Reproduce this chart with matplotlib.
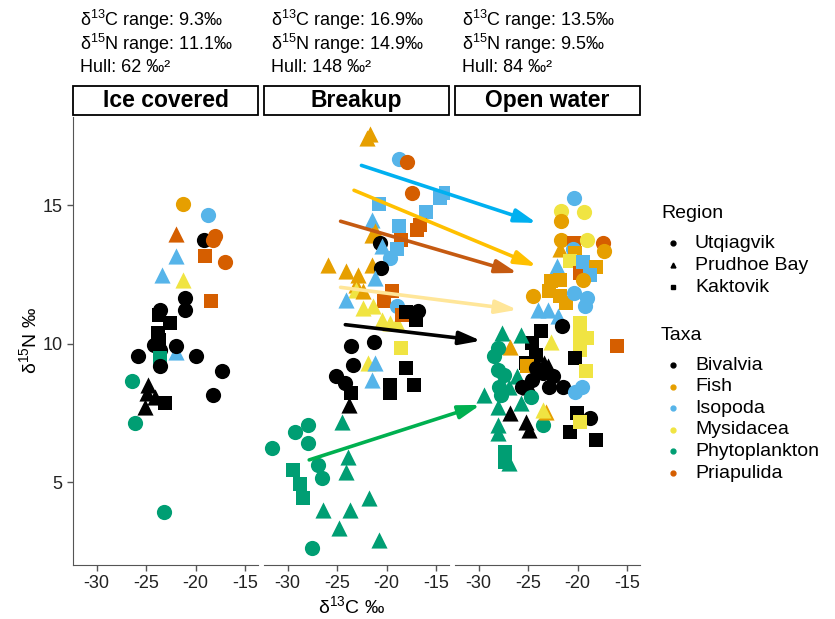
import matplotlib
matplotlib.use('Agg')
import matplotlib.pyplot as plt
from matplotlib.patches import Rectangle, ConnectionPatch
from matplotlib.lines import Line2D

plt.rcParams['font.family'] = ['Liberation Sans', 'DejaVu Sans']
plt.rcParams['mathtext.fontset'] = 'custom'
plt.rcParams['mathtext.rm'] = 'Liberation Sans'
plt.rcParams['mathtext.it'] = 'Liberation Sans:italic'
plt.rcParams['mathtext.bf'] = 'Liberation Sans:bold'

# ---------------- data ----------------
seasons = ['Ice covered', 'Breakup', 'Open water']
c_range = ['9.3', '16.9', '13.5']
n_range = ['11.1', '14.9', '9.5']
hull_area = ['62', '148', '84']

taxa_names = ['Bivalvia', 'Fish', 'Isopoda', 'Mysidacea', 'Phytoplankton', 'Priapulida']
taxa_codes = ['B', 'F', 'I', 'M', 'P', 'R']
taxa_colors = ['#000000', '#E69F00', '#56B4E9', '#F0E442', '#009E73', '#D55E00']
region_names = ['Utqiagvik', 'Prudhoe Bay', 'Kaktovik']
region_codes = ['U', 'P', 'K']
region_markers = ['o', '^', 's']

ice_x = [-21.3, -18.8, -22.0, -19.15, -18.06, -18.2, -22.0, -19.05, -17.0, -23.4,
         -21.3, -18.5, -21.1, -21.1, -23.6, -23.7, -22.6, -23.8, -23.7, -22.0,
         -24.25, -22.0, -23.6, -25.8, -23.6, -20.0, -23.6, -17.35, -26.4, -24.8,
         -24.9, -24.1, -25.1, -23.1, -18.2, -26.1, -23.2]
ice_y = [15.06, 14.64, 13.97, 13.74, 13.9, 13.74, 13.19, 13.16, 12.96, 12.47,
         12.29, 11.53, 11.66, 11.23, 11.23, 11.05, 10.75, 10.39, 10.14, 9.72,
         9.96, 9.93, 9.78, 9.54, 9.48, 9.54, 9.18, 9.02, 8.66, 8.51,
         8.21, 8.09, 7.73, 7.85, 8.15, 7.12, 3.92]
ice_taxa = ['F', 'I', 'R', 'B', 'R', 'R', 'I', 'R', 'R', 'I',
            'M', 'R', 'B', 'B', 'B', 'B', 'B', 'B', 'B', 'I',
            'B', 'B', 'B', 'B', 'P', 'B', 'B', 'B', 'P', 'B',
            'B', 'B', 'B', 'B', 'B', 'P', 'P']
ice_region = ['U', 'U', 'P', 'U', 'U', 'U', 'P', 'K', 'U', 'P',
              'P', 'K', 'U', 'U', 'U', 'K', 'K', 'K', 'K', 'P',
              'U', 'U', 'U', 'U', 'K', 'U', 'U', 'U', 'U', 'P',
              'P', 'P', 'P', 'K', 'U', 'U', 'U']

brk_x = [-21.7, -22.0, -18.8, -17.96, -17.4, -14.56, -14.05, -20.8, -16.0, -21.5,
         -16.6, -16.9, -18.8, -21.2, -21.5, -20.7, -18.6, -20.5, -19.0, -19.7,
         -25.95, -21.5, -20.6, -24.1, -22.9, -23.1, -21.2, -23.1, -22.4, -19.5,
         -20.3, -24.1, -19.0, -22.4, -21.4, -20.5, -19.7, -19.0, -18.5, -16.8,
         -17.0, -18.0, -18.6, -23.6, -21.3, -23.4, -25.1, -24.25, -21.9, -21.2,
         -21.5, -18.0, -19.7, -19.7, -17.2, -23.6, -23.8, -24.5, -28.0, -29.25,
         -28.0, -31.6, -23.9, -24.1, -26.9, -26.5, -29.5, -28.8, -28.5, -26.4,
         -23.7, -21.8, -24.8, -20.75, -27.5]
brk_y = [17.57, 17.43, 16.69, 16.57, 15.46, 15.28, 15.46, 15.04, 14.76, 14.49,
         14.31, 14.13, 14.25, 14.07, 13.95, 13.65, 13.77, 13.53, 13.41, 13.1,
         12.86, 12.86, 12.74, 12.62, 12.5, 12.14, 12.38, 11.96, 11.9, 11.9,
         11.56, 11.6, 11.35, 11.29, 11.35, 10.87, 10.75, 10.75, 11.05, 11.17,
         10.87, 11.14, 9.84, 9.93, 10.05, 9.24, 8.82, 8.58, 9.3, 9.3,
         8.7, 9.12, 8.51, 8.21, 8.51, 8.21, 7.79, 7.18, 7.07, 6.82,
         6.4, 6.22, 5.92, 5.37, 5.62, 5.13, 5.43, 4.93, 4.41, 3.99,
         3.99, 4.41, 3.32, 2.9, 2.63]
brk_taxa = ['F', 'F', 'I', 'R', 'R', 'I', 'I', 'I', 'I', 'I',
            'R', 'R', 'I', 'F', 'F', 'B', 'R', 'I', 'I', 'I',
            'F', 'F', 'B', 'F', 'F', 'F', 'I', 'M', 'F', 'R',
            'R', 'I', 'I', 'M', 'M', 'M', 'M', 'M', 'R', 'B',
            'B', 'B', 'M', 'B', 'B', 'B', 'B', 'B', 'M', 'I',
            'I', 'B', 'B', 'B', 'B', 'B', 'B', 'P', 'P', 'P',
            'P', 'P', 'P', 'P', 'P', 'P', 'P', 'P', 'P', 'P',
            'P', 'P', 'P', 'P', 'P']
brk_region = ['P', 'P', 'U', 'U', 'U', 'K', 'K', 'K', 'K', 'P',
              'K', 'K', 'K', 'P', 'P', 'U', 'K', 'P', 'K', 'U',
              'P', 'P', 'U', 'P', 'P', 'P', 'P', 'P', 'P', 'K',
              'K', 'P', 'U', 'P', 'P', 'P', 'P', 'P', 'K', 'U',
              'K', 'K', 'K', 'U', 'U', 'U', 'U', 'U', 'P', 'P',
              'P', 'K', 'K', 'K', 'K', 'K', 'P', 'P', 'U', 'U',
              'U', 'U', 'P', 'P', 'U', 'U', 'K', 'K', 'K', 'P',
              'P', 'P', 'P', 'P', 'U']

opn_x = [-20.4, -21.7, -19.4, -21.7, -21.7, -20.4, -19.1, -17.4, -17.3, -21.8,
         -20.5, -20.3, -20.8, -19.8, -19.5, -18.1, -18.8, -19.5, -22.1, -22.7,
         -21.8, -22.9, -21.8, -21.15, -24.5, -20.4, -19.1, -19.3, -24.05, -23.0,
         -22.0, -21.6, -19.8, -19.8, -19.1, -19.8, -23.7, -24.6, -24.2, -25.2,
         -22.7, -27.6, -25.7, -26.8, -28.1, -28.5, -25.1, -20.3, -19.2, -28.1,
         -27.45, -27.96, -27.8, -26.1, -26.9, -24.2, -23.5, -22.5, -22.9, -21.5,
         -24.6, -25.6, -23.4, -23.0, -24.9, -19.6, -20.3, -29.5, -28.1, -25.7,
         -28.1, -28.1, -24.7, -23.5, -23.2, -23.5, -26.8, -25.2, -24.9, -18.8,
         -20.1, -20.75, -18.1, -19.8, -27.35, -27.35, -26.9, -16.0]
opn_y = [15.28, 14.79, 14.76, 14.43, 13.77, 13.65, 13.77, 13.65, 13.34, 13.41,
         13.41, 13.3, 12.98, 12.56, 12.96, 12.78, 12.47, 12.32, 12.8, 12.26,
         12.32, 11.9, 11.71, 11.47, 11.74, 11.84, 11.66, 11.35, 11.23, 11.23,
         10.99, 10.63, 10.75, 10.26, 10.2, 9.78, 10.45, 10.03, 9.6, 9.3,
         10.08, 10.39, 10.33, 9.9, 9.84, 9.54, 9.18, 9.48, 9.0, 9.06,
         8.88, 8.45, 8.15, 8.82, 8.45, 9.12, 8.94, 8.82, 8.45, 8.45,
         8.7, 8.45, 9.3, 9.18, 8.45, 8.45, 8.27, 8.15, 7.73, 7.85,
         7.07, 6.76, 8.09, 7.07, 7.55, 7.61, 7.49, 7.18, 6.88, 7.3,
         7.49, 6.82, 6.52, 7.18, 6.1, 5.74, 5.68, 9.93]
opn_taxa = ['I', 'M', 'M', 'F', 'F', 'R', 'M', 'R', 'F', 'F',
            'I', 'F', 'M', 'R', 'I', 'F', 'I', 'F', 'I', 'F',
            'F', 'F', 'F', 'F', 'F', 'I', 'I', 'I', 'I', 'I',
            'I', 'B', 'M', 'M', 'M', 'M', 'B', 'B', 'B', 'B',
            'M', 'P', 'P', 'F', 'P', 'P', 'F', 'B', 'M', 'P',
            'P', 'P', 'P', 'P', 'P', 'B', 'B', 'B', 'B', 'B',
            'B', 'B', 'B', 'B', 'B', 'I', 'I', 'P', 'P', 'P',
            'P', 'P', 'P', 'P', 'F', 'M', 'B', 'B', 'B', 'B',
            'B', 'B', 'B', 'M', 'P', 'P', 'P', 'R']
opn_region = ['U', 'U', 'U', 'U', 'U', 'K', 'U', 'U', 'U', 'P',
              'U', 'K', 'K', 'K', 'K', 'K', 'K', 'U', 'P', 'K',
              'K', 'K', 'K', 'K', 'U', 'U', 'U', 'U', 'P', 'P',
              'P', 'U', 'K', 'K', 'K', 'K', 'K', 'K', 'K', 'K',
              'P', 'P', 'P', 'P', 'U', 'U', 'K', 'K', 'K', 'U',
              'U', 'U', 'U', 'P', 'P', 'U', 'U', 'U', 'U', 'U',
              'U', 'U', 'P', 'P', 'P', 'U', 'U', 'P', 'P', 'P',
              'P', 'P', 'U', 'U', 'P', 'P', 'P', 'P', 'P', 'U',
              'K', 'K', 'K', 'K', 'K', 'K', 'P', 'K']

# centroid-shift arrows (start in Breakup panel, end in Open water panel)
arrow_colors = ['#00B0F0', '#FFC000', '#C55A11', '#FFE699', '#000000', '#00B050']
arrow_x0 = [-22.55, -23.3, -24.66, -24.66, -24.18, -27.83]
arrow_y0 = [16.45, 15.55, 14.43, 12.04, 10.69, 5.8]
arrow_x1 = [-24.15, -24.15, -26.09, -26.09, -29.77, -29.83]
arrow_y1 = [14.37, 12.8, 12.56, 11.23, 10.11, 7.79]

x_ticks = [-30, -25, -20, -15]
y_ticks = [5, 10, 15]

# ---------------- figure ----------------
W, H = 835, 619
fig = plt.figure(figsize=(W / 100, H / 100), dpi=100)

def fx(px):
    return px / W

def fy(py):
    return 1 - py / H

panel_left = [73, 264, 455]
panel_w = 185
top_px, bot_px = 117, 565
axis_col = '#555555'

color_of = dict(zip(taxa_codes, taxa_colors))
marker_of = dict(zip(region_codes, region_markers))
size_of = {'o': 120, '^': 135, 's': 100}

panel_data = [(ice_x, ice_y, ice_taxa, ice_region),
              (brk_x, brk_y, brk_taxa, brk_region),
              (opn_x, opn_y, opn_taxa, opn_region)]

axes = []
for i, (xs, ys, tx, rg) in enumerate(panel_data):
    ax = fig.add_axes([fx(panel_left[i]), fy(bot_px), panel_w / W, (bot_px - top_px) / H])
    axes.append(ax)
    for x, y, t, r in zip(xs, ys, tx, rg):
        m = marker_of[r]
        ax.scatter([x], [y], s=size_of[m], marker=m, color=color_of[t], linewidths=0)
    ax.set_xlim(-32.4, -13.7)
    ax.set_ylim(2.0, 18.2)
    for s in ['top', 'right']:
        ax.spines[s].set_visible(False)
    ax.spines['bottom'].set_color(axis_col)
    ax.spines['left'].set_color(axis_col)
    ax.set_xticks(x_ticks)
    ax.set_xticklabels([str(t) for t in x_ticks], fontsize=13, color='#222222')
    ax.tick_params(axis='both', direction='out', length=4, color=axis_col, width=1)
    if i == 0:
        ax.set_yticks(y_ticks)
        ax.set_yticklabels([str(t) for t in y_ticks], fontsize=13, color='#222222')
    else:
        ax.spines['left'].set_visible(False)
        ax.set_yticks([])
    # strip
    ax.add_patch(Rectangle((0, 1 + 2 / 448), 1, 29 / 448, transform=ax.transAxes,
                           facecolor='white', edgecolor='black', lw=1.3, clip_on=False))
    ax.text(0.5, 1 + 16.5 / 448, seasons[i], transform=ax.transAxes, ha='center', va='center',
            fontsize=16.5, fontweight='bold')
    # stats text
    tx0 = fx(panel_left[i] + 7)
    fig.text(tx0, fy(20), r'δ$^{13}$C range: ' + c_range[i] + '‰', fontsize=13, va='center')
    fig.text(tx0, fy(44), r'δ$^{15}$N range: ' + n_range[i] + '‰', fontsize=13, va='center')
    fig.text(tx0, fy(67), 'Hull: ' + hull_area[i] + ' ‰²', fontsize=13, va='center')

# axis titles
fig.text(fx(352), fy(606), r'δ$^{13}$C ‰', fontsize=14, ha='center', va='center')
fig.text(fx(29), fy(340), r'δ$^{15}$N ‰', fontsize=14, ha='center', va='center', rotation=90)

# arrows
for c, x0, y0, x1, y1 in zip(arrow_colors, arrow_x0, arrow_y0, arrow_x1, arrow_y1):
    cp = ConnectionPatch(xyA=(x0, y0), coordsA=axes[1].transData,
                         xyB=(x1, y1), coordsB=axes[2].transData,
                         arrowstyle='-|>,head_length=0.65,head_width=0.2',
                         color=c, lw=2.6, mutation_scale=20,
                         shrinkA=0, shrinkB=0, zorder=5)
    fig.add_artist(cp)

# legend
fig.text(fx(661), fy(213), 'Region', fontsize=14, va='center')
for j, (nm, mk) in enumerate(zip(region_names, region_markers)):
    yy = [243, 265, 287][j]
    fig.add_artist(Line2D([fx(673)], [fy(yy)], marker=mk, markersize=3.5, color='black',
                          linestyle='none', transform=fig.transFigure))
    fig.text(fx(695), fy(yy), nm, fontsize=14, va='center')
fig.text(fx(661), fy(335), 'Taxa', fontsize=14, va='center')
for j, (nm, col) in enumerate(zip(taxa_names, taxa_colors)):
    yy = 365 + j * 21.6
    fig.add_artist(Line2D([fx(673)], [fy(yy)], marker='o', markersize=3.5, color=col,
                          linestyle='none', transform=fig.transFigure))
    fig.text(fx(695), fy(yy), nm, fontsize=14, va='center')

fig.savefig('out.png', dpi=100)
